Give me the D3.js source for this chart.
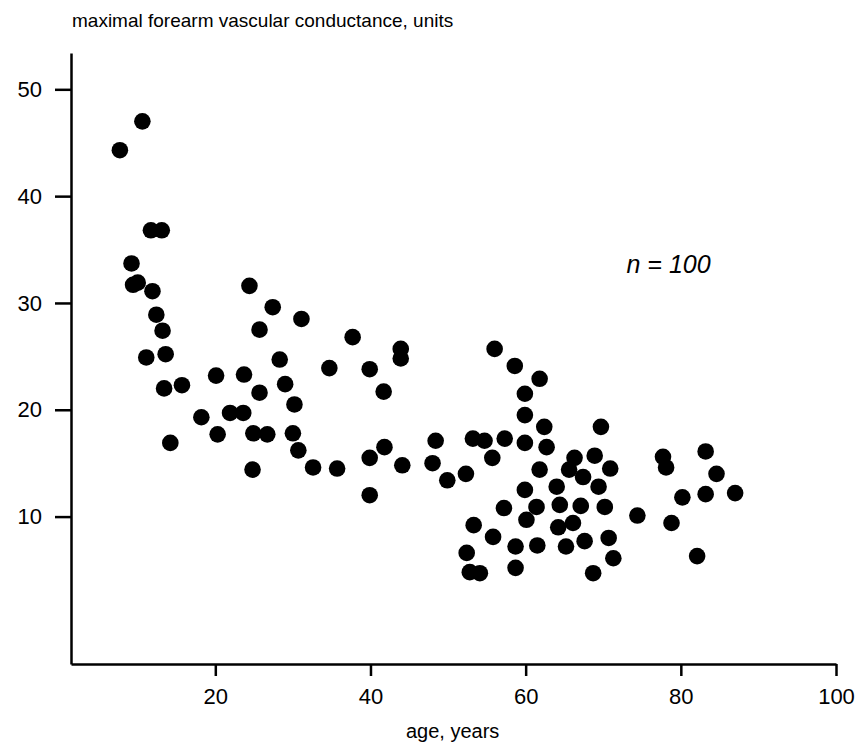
<!DOCTYPE html>
<html>
<head>
<meta charset="utf-8">
<script src="https://cdn.jsdelivr.net/npm/d3@7"></script>
<style>
    body { margin: 0; background: #fff; }
    text { font-family: "Liberation Sans", Arial, sans-serif; fill: #000; }
</style>
</head>
<body>
<div id="chart"></div>
<script>
// ages (years) and maximal forearm vascular conductance
const ages = [
    10.6, 7.7, 11.7, 13.1, 9.2, 9.4, 10.0, 11.9, 12.4, 13.2,
    13.6, 11.1, 13.4, 15.7, 14.2, 18.2, 20.1, 20.3, 21.9, 23.6,
    23.7, 24.4, 25.7, 24.9, 26.7, 24.8, 27.4, 25.7, 28.3, 29.0,
    30.2, 31.1, 30.0, 30.7, 32.6, 34.7, 35.7, 37.7, 39.9, 39.9,
    41.7, 43.9, 43.9, 56.0, 58.6, 61.8, 59.9, 59.9, 62.4, 69.7,
    41.8, 44.1, 48.4, 48.0, 49.9, 52.3, 53.2, 54.7, 55.7, 57.3,
    59.9, 62.7, 61.8, 59.9, 66.3, 68.9, 65.6, 67.4, 70.9, 69.4,
    64.0, 39.9, 57.2, 61.4, 60.1, 64.4, 67.1, 70.2, 74.4, 53.3,
    55.8, 58.7, 61.5, 64.2, 66.1, 65.2, 67.6, 70.7, 71.3, 52.4,
    52.8, 54.1, 58.7, 68.7, 77.7, 78.1, 83.2, 84.6, 80.2, 83.2,
    87.0, 78.8, 82.1
];
const conductance = [
    47.0, 44.3, 36.8, 36.8, 33.7, 31.7, 31.9, 31.1, 28.9, 27.4,
    25.2, 24.9, 22.0, 22.3, 16.9, 19.3, 23.2, 17.7, 19.7, 19.7,
    23.3, 31.6, 21.6, 17.8, 17.7, 14.4, 29.6, 27.5, 24.7, 22.4,
    20.5, 28.5, 17.8, 16.2, 14.6, 23.9, 14.5, 26.8, 23.8, 15.5,
    21.7, 25.7, 24.8, 25.7, 24.1, 22.9, 21.5, 19.5, 18.4, 18.4,
    16.5, 14.8, 17.1, 15.0, 13.4, 14.0, 17.3, 17.1, 15.5, 17.3,
    16.9, 16.5, 14.4, 12.5, 15.5, 15.7, 14.4, 13.7, 14.5, 12.8,
    12.8, 12.0, 10.8, 10.9, 9.7, 11.1, 11.0, 10.9, 10.1, 9.2,
    8.1, 7.2, 7.3, 9.0, 9.4, 7.2, 7.7, 8.0, 6.1, 6.6,
    4.8, 4.7, 5.2, 4.7, 15.6, 14.6, 16.1, 14.0, 11.8, 12.1,
    12.2, 9.4, 6.3
];
const xTicks = [20, 40, 60, 80, 100];
const yTicks = [10, 20, 30, 40, 50];
const xDomain = [1.4, 100];
const yDomain = [-3.8, 53.4];
const titleText = "maximal forearm vascular conductance, units";
const xLabelText = "age, years";
const noteText = "n = 100";

function drawScatter() {
    const data = ages.map((a, i) => ({ age: a, value: conductance[i] }));

    //DIMENSIONS
    let dimensions = {
        width: 855,
        height: 747,
        margin: {
            top: 53,
            right: 19,
            bottom: 83,
            left: 71,
        },
    }
    dimensions.boundedWidth = dimensions.width - dimensions.margin.left - dimensions.margin.right;
    dimensions.boundedHeight = dimensions.height - dimensions.margin.top - dimensions.margin.bottom;

    //ACCESSORS
    const xAccessor = d => d.age;
    const yAccessor = d => d.value;

    //SCALES
    const xScale = d3.scaleLinear()
        .domain(xDomain)
        .range([0, dimensions.boundedWidth]);
    const yScale = d3.scaleLinear()
        .domain(yDomain)
        .range([dimensions.boundedHeight, 0]);

    //WRAPPER
    const wrapper = d3.select("#chart").append("svg")
        .attr("width", dimensions.width)
        .attr("height", dimensions.height);

    wrapper.append("text")
        .attr("x", 72)
        .attr("y", 27)
        .attr("font-size", "19px")
        .text(titleText);

    const bounds = wrapper.append("g")
        .attr("transform", `translate(${dimensions.margin.left}, ${dimensions.margin.top})`);

    //POINTS
    bounds.append("g")
        .selectAll("circle")
        .data(data)
        .enter()
        .append("circle")
        .attr("cx", d => xScale(xAccessor(d)))
        .attr("cy", d => yScale(yAccessor(d)))
        .attr("r", 8.3)
        .attr("fill", "#000");

    //AXES
    const xAxis = bounds.append("g")
        .attr("transform", `translate(0, ${dimensions.boundedHeight})`)
        .call(d3.axisBottom(xScale).tickValues(xTicks).tickSize(12).tickSizeOuter(0).tickPadding(12));
    const yAxis = bounds.append("g")
        .call(d3.axisLeft(yScale).tickValues(yTicks).tickSize(16).tickSizeOuter(0).tickPadding(13));

    [xAxis, yAxis].forEach(ax => {
        ax.select(".domain").attr("stroke", "#000").attr("stroke-width", 2.5);
        ax.selectAll(".tick line").attr("stroke", "#000").attr("stroke-width", 2.5);
        ax.selectAll(".tick text")
            .attr("font-family", "Liberation Sans, Arial, sans-serif")
            .attr("font-size", "22px")
            .attr("fill", "#000");
    });

    //LABELS
    bounds.append("text")
        .attr("x", xScale(60) - 73)
        .attr("y", dimensions.boundedHeight + 74)
        .attr("text-anchor", "middle")
        .attr("font-size", "20px")
        .text(xLabelText);

    bounds.append("text")
        .attr("x", xScale(73))
        .attr("y", yScale(32.8))
        .attr("font-size", "25px")
        .attr("font-style", "italic")
        .text(noteText);
}

drawScatter();
</script>
</body>
</html>
